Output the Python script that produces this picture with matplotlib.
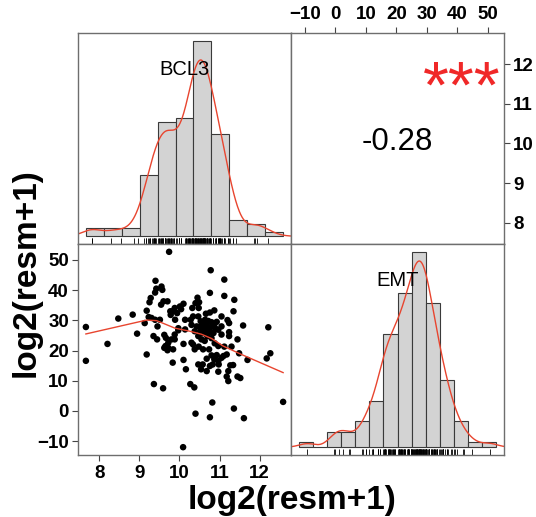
import numpy as np
import matplotlib
matplotlib.use("Agg")
import matplotlib.pyplot as plt

plt.rcParams['font.family'] = ['Liberation Sans', 'DejaVu Sans']

# ---- data ----
bcl3 = [7.66, 7.66, 8.20, 8.47, 8.83, 8.94, 9.18, 9.74, 9.36, 9.59,
        10.09, 10.40, 10.76, 10.82, 11.36, 11.61, 12.59, 12.22, 12.27, 12.18,
        10.78, 11.12, 9.40, 9.55, 9.39, 9.57, 9.28, 10.76, 11.12, 11.37,
        11.35, 11.59, 11.45, 11.49, 11.70, 10.27, 10.37, 9.83, 10.16, 10.10,
        9.18, 9.13, 9.35, 9.44, 9.60, 9.70, 9.62, 9.65, 9.72, 9.62,
        9.70, 9.80, 9.88, 9.82, 9.88, 9.78, 10.10, 10.04, 9.94, 9.89,
        9.97, 10.10, 10.30, 10.32, 10.40, 10.49, 10.48, 10.34, 10.47, 10.66,
        10.76, 10.87, 11.05, 11.20, 11.24, 10.30, 10.43, 10.55, 10.68, 10.80,
        10.87, 10.58, 10.70, 10.80, 11.05, 11.24, 10.55, 10.48, 10.59, 10.74,
        10.97, 11.12, 11.30, 11.10, 11.18, 10.80, 10.87, 10.68, 10.97, 10.98,
        11.27, 11.34, 10.47, 10.58, 10.54, 10.76, 10.97, 11.18, 11.22, 11.45,
        11.52, 9.72, 9.84, 9.51, 9.23, 9.30, 9.39, 9.88, 9.97, 10.14,
        10.14, 10.28, 10.53, 10.64, 10.38, 10.47, 10.34, 10.38, 11.05, 10.97,
        11.24, 9.66, 9.77, 9.54, 10.01, 11.05, 11.22, 10.68, 10.83, 10.93,
        9.42, 9.25, 9.45, 10.45, 10.52, 10.60, 10.62, 10.66, 10.72, 10.75,
        10.78, 10.83, 10.85, 10.90, 10.93, 10.56, 10.70, 10.63, 10.88]
emt = [27.8, 16.6, 22.2, 30.6, 31.9, 25.6, 18.7, 52.7, 8.9, 7.5,
       -12.0, -0.9, -2.1, 2.8, 0.8, -2.4, 3.0, 27.7, 19.1, 17.4,
       46.6, 43.5, 43.1, 41.2, 39.2, 40.1, 37.4, 39.1, 38.1, 36.8,
       33.0, 28.3, 23.7, 19.1, 16.9, 8.9, 7.8, 16.0, 13.8, 16.9,
       33.2, 29.1, 24.8, 23.7, 36.3, 36.3, 25.2, 21.5, 20.9, 20.9,
       20.1, 23.7, 23.7, 33.0, 34.1, 31.8, 35.5, 33.7, 32.4, 30.2,
       27.4, 22.2, 22.6, 34.1, 35.7, 36.0, 34.1, 31.3, 31.3, 32.2,
       32.6, 33.3, 31.3, 30.1, 29.1, 28.5, 28.0, 27.8, 28.6, 29.4,
       28.0, 25.8, 24.8, 24.1, 25.3, 26.1, 23.7, 21.3, 20.4, 20.4,
       21.5, 21.3, 21.3, 18.2, 18.7, 18.4, 17.1, 17.3, 16.5, 15.4,
       15.1, 15.2, 15.4, 15.4, 13.8, 14.9, 13.0, 11.4, 9.9, 11.4,
       10.9, 22.6, 20.4, 30.2, 31.1, 30.8, 30.2, 25.3, 26.7, 27.0,
       30.2, 30.2, 29.7, 30.2, 26.4, 24.8, 22.0, 20.4, 28.0, 26.9,
       24.8, 24.2, 33.0, 35.2, 34.6, 17.6, 13.2, 13.2, 15.4, 18.5,
       40.5, 36.0, 28.0, 37.5, 26.5, 29.0, 27.0, 25.5, 29.8, 27.5,
       26.2, 28.8, 25.8, 27.2, 29.5, 28.3, 26.8, 23.2, 22.4]

# histogram bins and counts
bcl3_breaks = np.arange(7.5, 13.01, 0.5)
bcl3_counts = [2, 2, 2, 15, 28, 29, 48, 25, 4, 3, 1]
emt_breaks = np.arange(-15, 55.1, 5)
emt_counts = [1, 0, 3, 3, 5, 9, 22, 30, 38, 28, 13, 5, 1, 1]

# smoother line in the scatter panel
smooth_x = [7.66, 9.18, 9.43, 9.89, 10.26, 10.55, 10.80, 11.09, 11.55, 12.59]
smooth_y = [25.5, 30.1, 29.9, 27.4, 26.4, 25.4, 24.0, 21.5, 18.7, 12.7]

r_value = -0.28
signif = "***"
var_names = ["BCL3", "EMT"]
axis_title = "log2(resm+1)"

bcl3 = np.array(bcl3)
emt = np.array(emt)
n = len(bcl3)

RED = "#E8452F"
BORDER = "#6E6E6E"


def ext(lo, hi):
    d = (hi - lo) * 0.04
    return lo - d, hi + d


def density(x):
    # gaussian kernel, bw.nrd0 like R
    q75, q25 = np.percentile(x, [75, 25])
    bw = 0.9 * min(np.std(x, ddof=1), (q75 - q25) / 1.34) * len(x) ** -0.2
    g = np.linspace(x.min() - 3 * bw, x.max() + 3 * bw, 512)
    d = np.exp(-0.5 * ((g[:, None] - x[None, :]) / bw) ** 2).sum(1)
    return g, d / (len(x) * bw * np.sqrt(2 * np.pi))


def hist_panel(ax, x, breaks, counts, label):
    w = breaks[1] - breaks[0]
    dens = np.array(counts) / (n * w)
    ax.bar(breaks[:-1], dens, width=w, align='edge', color='#D3D3D3',
           edgecolor='#3A3A3A', linewidth=0.8)
    g, d = density(x)
    ax.plot(g, d, color=RED, lw=1.0)
    ax.set_xlim(*ext(breaks[0], breaks[-1]))
    ylo, yhi = ext(0, dens.max())
    ax.set_ylim(ylo, yhi)
    # rug
    rug_len = 0.03 * (yhi - ylo)
    ax.vlines(x, ylo, ylo + rug_len, color='black', lw=0.6)
    ax.set_xticks([])
    ax.set_yticks([])
    ax.text(0.5, 0.80, label, transform=ax.transAxes, ha='center',
            va='baseline', fontsize=14.5)


W, H = 536, 517
fig = plt.figure(figsize=(W / 100, H / 100), dpi=100)
pw, ph = 213 / W, 211 / H
x0, x1 = 78 / W, 291 / W
y_top, y_bot = 1 - 244 / H, 1 - 455 / H

ax_h1 = fig.add_axes([x0, y_top, pw, ph])
ax_c = fig.add_axes([x1, y_top, pw, ph])
ax_s = fig.add_axes([x0, y_bot, pw, ph])
ax_h2 = fig.add_axes([x1, y_bot, pw, ph])

for ax in (ax_h1, ax_c, ax_s, ax_h2):
    for sp in ax.spines.values():
        sp.set_color(BORDER)
        sp.set_linewidth(1.0)
    ax.tick_params(length=4.5, width=0.8, color='#444444', labelsize=13.5)

xlim_b = ext(bcl3.min(), bcl3.max())
ylim_e = ext(emt.min(), emt.max())

hist_panel(ax_h1, bcl3, bcl3_breaks, bcl3_counts, var_names[0])
hist_panel(ax_h2, emt, emt_breaks, emt_counts, var_names[1])

# scatter
ax_s.scatter(bcl3, emt, s=22, color='black', edgecolors='none')
ax_s.plot(smooth_x, smooth_y, color=RED, lw=1.0)
ax_s.set_xlim(*xlim_b)
ax_s.set_ylim(*ylim_e)
ax_s.set_xticks([8, 9, 10, 11, 12])
ax_s.set_yticks([-10, 0, 10, 20, 30, 40, 50])
ax_s.tick_params(axis='x', pad=3)
ax_s.tick_params(axis='y', pad=2)

# correlation panel
ax_c.set_xlim(*ylim_e)
ax_c.set_ylim(*xlim_b)
ax_c.xaxis.tick_top()
ax_c.yaxis.tick_right()
ax_c.set_xticks([-10, 0, 10, 20, 30, 40, 50])
ax_c.set_yticks([8, 9, 10, 11, 12])
ax_c.tick_params(axis='x', pad=3)
ax_c.tick_params(axis='y', pad=2)
ax_c.text(0.5, 0.4445, f"{r_value:.2f}", transform=ax_c.transAxes,
          ha='center', va='baseline', fontsize=22.5)
ax_c.text(0.80, 0.645, signif, transform=ax_c.transAxes, ha='center',
          va='baseline', fontsize=48, color='#F02828')

for ax in (ax_s, ax_c):
    for t in ax.get_xticklabels() + ax.get_yticklabels():
        t.set_fontweight('bold')

fig.text(292 / W, 1 - 509 / H, axis_title, ha='center', va='baseline',
         fontsize=24, fontweight='bold')
fig.text(26 / W, 1 - 273 / H, axis_title, ha='center', va='center',
         rotation=90, fontsize=24, fontweight='bold')

fig.savefig("out.png", dpi=100)
